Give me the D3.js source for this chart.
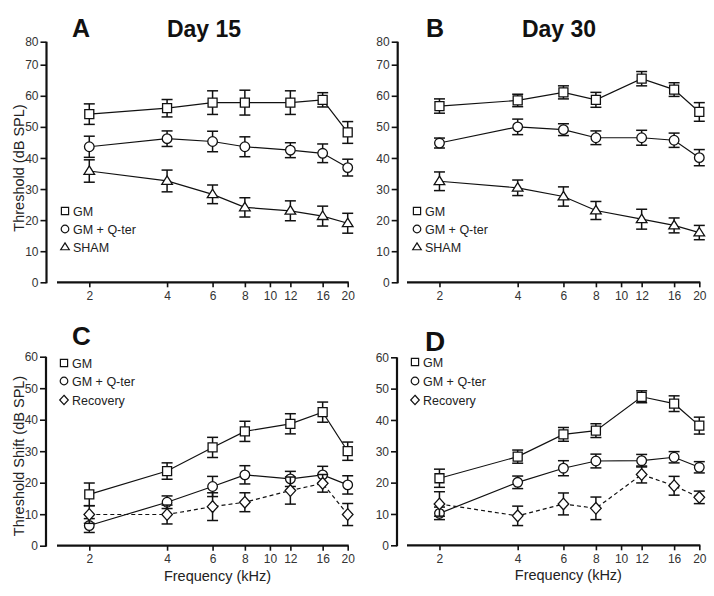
<!DOCTYPE html>
<html><head><meta charset="utf-8">
<script src="https://cdn.jsdelivr.net/npm/d3@7"></script>
<style>html,body{margin:0;padding:0;background:#fff}svg{display:block}</style>
</head><body>
<script>
// ---- data ----
const freqs = [2, 4, 6, 8, 12, 16, 20];
const xTickValues = [2, 4, 6, 8, 10, 12, 16, 20];
const yTicksThreshold = [0, 10, 20, 30, 40, 50, 60, 70, 80];
const yTicksShift = [0, 10, 20, 30, 40, 50, 60];

// Panel A: Day 15 thresholds
const day15GM = [54.1, 56.0, 57.8, 57.8, 57.8, 58.7, 48.2];
const day15GMErr = [3.3, 2.8, 3.8, 4.0, 3.8, 2.3, 3.5];
const day15GMQ = [43.6, 46.2, 45.3, 43.6, 42.5, 41.5, 36.9];
const day15GMQErr = [3.4, 2.5, 3.3, 3.2, 2.4, 3.0, 2.7];
const day15SHAM = [35.8, 32.6, 28.3, 24.1, 23.0, 21.3, 19.0];
const day15SHAMErr = [3.6, 3.5, 3.0, 3.1, 3.2, 3.2, 3.2];

// Panel B: Day 30 thresholds
const day30GM = [56.7, 58.5, 61.1, 58.7, 65.5, 62.0, 54.8];
const day30GMErr = [2.3, 2.0, 2.1, 2.4, 2.3, 2.2, 3.0];
const day30GMQ = [44.8, 50.0, 49.1, 46.5, 46.5, 45.7, 40.1];
const day30GMQErr = [1.6, 2.5, 1.9, 2.2, 2.4, 2.3, 2.6];
const day30SHAM = [32.5, 30.4, 27.6, 23.1, 20.3, 18.3, 16.0];
const day30SHAMErr = [3.0, 2.5, 3.1, 2.9, 3.2, 2.4, 2.3];

// Panel C: Day 15 threshold shift
const shift15GM = [16.3, 23.7, 31.2, 36.3, 38.7, 42.4, 30.0];
const shift15GMErr = [3.6, 2.6, 3.2, 3.2, 3.2, 3.2, 2.9];
const shift15GMQ = [6.4, 13.8, 18.8, 22.5, 21.2, 22.5, 19.3];
const shift15GMQErr = [2.2, 2.0, 3.2, 2.9, 2.4, 2.7, 2.9];
const shift15Rec = [9.9, 9.9, 12.4, 13.8, 17.5, 19.8, 9.9];
const shift15RecErr = [2.8, 3.0, 4.4, 3.0, 4.3, 2.8, 3.5];

// Panel D: Day 30 threshold shift
const shift30GM = [21.4, 28.3, 35.4, 36.6, 47.4, 45.2, 38.2];
const shift30GMErr = [2.9, 2.1, 2.2, 2.2, 1.9, 2.5, 2.7];
const shift30GMQ = [10.2, 20.1, 24.6, 26.9, 27.0, 28.1, 24.9];
const shift30GMQErr = [2.0, 2.0, 2.4, 2.2, 2.0, 1.8, 1.8];
const shift30Rec = [13.2, 9.4, 13.2, 11.8, 22.6, 19.0, 15.3];
const shift30RecErr = [3.9, 3.1, 3.5, 3.6, 2.7, 3.0, 2.0];

const legendTop = ["GM", "GM + Q-ter", "SHAM"];
const legendBottom = ["GM", "GM + Q-ter", "Recovery"];

// ---- drawing ----
const W = 714, H = 596;
const svg = d3.select("body").append("svg").attr("width", W).attr("height", H)
  .style("font-family", "'Liberation Sans', Arial, Helvetica, sans-serif");

const ink = "#111";

function shapePath(kind, s) {
  if (kind === "square") return `M${-s},${-s}H${s}V${s}H${-s}Z`;
  if (kind === "circle") return `M${-s},0A${s},${s} 0 1,0 ${s},0A${s},${s} 0 1,0 ${-s},0Z`;
  if (kind === "triangle") { const h = s * 1.6; return `M0,${-h*0.6}L${s},${h*0.4}L${-s},${h*0.4}Z`; }
  if (kind === "diamond") return `M0,${-s*1.1}L${s},0L0,${s*1.1}L${-s},0Z`;
}

function panel(cfg) {
  const g = svg.append("g");
  const x = d3.scaleLog().domain([1.5, 20]).range(cfg.xRange);
  const y = d3.scaleLinear().domain(cfg.yDomain).range(cfg.yRange);

  // y axis
  const yAxis = d3.axisLeft(y).tickValues(cfg.yTicks).tickSize(6).tickPadding(2).tickFormat(d3.format("d"));
  const ya = g.append("g").attr("transform", `translate(${cfg.yAxisX},0)`).call(yAxis);
  ya.select(".domain").attr("stroke", ink).attr("stroke-width", 2.2).attr("d", `M0,${y(cfg.yTicks[cfg.yTicks.length-1])}V${y(0)+1}`);
  ya.selectAll(".tick line").attr("stroke", ink).attr("stroke-width", 1.6);
  ya.selectAll(".tick text").attr("fill", "#333").style("font-size", "12px").attr("dy", "0.34em");

  // x axis
  const yBase = y(0);
  const xAxis = d3.axisBottom(x).tickValues(xTickValues).tickSize(5).tickPadding(4).tickFormat(d3.format("d"));
  const xa = g.append("g").attr("transform", `translate(0,${yBase})`).call(xAxis);
  xa.select(".domain").attr("stroke", ink).attr("stroke-width", 2.2).attr("d", `M${cfg.xRange[0]},0H${cfg.xRange[1]+1}`);
  xa.selectAll(".tick line").attr("stroke", ink).attr("stroke-width", 1.6);
  xa.selectAll(".tick text").attr("fill", "#333").style("font-size", "12px");

  // series
  cfg.series.forEach(s => {
    const pts = freqs.map((f, i) => ({ f, v: s.values[i], e: s.errs[i] }));
    const line = d3.line().x(d => x(d.f)).y(d => y(d.v));
    g.append("path").datum(pts).attr("d", line).attr("fill", "none")
      .attr("stroke", ink).attr("stroke-width", 1.2)
      .attr("stroke-dasharray", s.dashed ? "4,3" : null);
    const eb = g.append("g").selectAll("g").data(pts).join("g");
    eb.append("line").attr("x1", d => x(d.f)).attr("x2", d => x(d.f))
      .attr("y1", d => y(d.v + d.e)).attr("y2", d => y(d.v - d.e))
      .attr("stroke", ink).attr("stroke-width", 1.5);
    [1, -1].forEach(sg => {
      eb.append("line").attr("x1", d => x(d.f) - 5.5).attr("x2", d => x(d.f) + 5.5)
        .attr("y1", d => y(d.v + sg * d.e)).attr("y2", d => y(d.v + sg * d.e))
        .attr("stroke", ink).attr("stroke-width", 1.5);
    });
    g.append("g").selectAll("path").data(pts).join("path")
      .attr("transform", d => `translate(${x(d.f)},${y(d.v)})`)
      .attr("d", shapePath(s.shape, s.shape === "circle" ? 4.8 : (s.shape === "square" ? 4.5 : 5.3)))
      .attr("fill", "#fff").attr("stroke", ink).attr("stroke-width", 1.3);
  });

  // legend
  cfg.legend.forEach((lab, i) => {
    const ly = cfg.legendY[i];
    const sh = cfg.series[i].shape;
    g.append("path").attr("transform", `translate(${cfg.legendX},${ly})`)
      .attr("d", shapePath(sh, sh === "circle" ? 3.8 : (sh === "square" ? 3.6 : 4.3)))
      .attr("fill", "#fff").attr("stroke", ink).attr("stroke-width", 1.2);
    g.append("text").attr("x", cfg.legendX + 8).attr("y", ly).attr("dy", "0.36em")
      .style("font-size", "12.5px").attr("fill", "#222").text(lab);
  });

  // panel letter + title
  g.append("text").attr("x", cfg.letterX).attr("y", cfg.letterY).text(cfg.letter)
    .style("font-size", cfg.letterSize + "px").style("font-weight", "bold").attr("fill", ink);
  if (cfg.title) {
    g.append("text").attr("x", cfg.titleX).attr("y", cfg.letterY).attr("text-anchor", "middle")
      .text(cfg.title).style("font-size", "23px").style("font-weight", "bold").attr("fill", ink);
  }
  if (cfg.yLabel) {
    g.append("text").attr("transform", `translate(${cfg.yLabelX},${cfg.yLabelY}) rotate(-90)`)
      .attr("text-anchor", "middle").style("font-size", "14.5px").attr("fill", "#222").text(cfg.yLabel);
  }
  if (cfg.xLabel) {
    g.append("text").attr("x", (x(2) + x(20)) / 2 - 1).attr("y", yBase + 35)
      .attr("text-anchor", "middle").style("font-size", "14.5px").attr("fill", "#222").text(cfg.xLabel);
  }
}

panel({
  xRange: [57, 347.7], yDomain: [0, 70, 80], yRange: [282.3, 64.7, 41.7], yTicks: yTicksThreshold,
  yAxisX: 46.5,
  series: [
    { values: day15GM, errs: day15GMErr, shape: "square" },
    { values: day15GMQ, errs: day15GMQErr, shape: "circle" },
    { values: day15SHAM, errs: day15SHAMErr, shape: "triangle" }
  ],
  legend: legendTop, legendX: 65, legendY: [211, 229, 247],
  letter: "A", letterX: 72, letterY: 37, letterSize: 25, title: "Day 15", titleX: 204,
  yLabel: "Threshold (dB SPL)", yLabelX: 24, yLabelY: 168
});
panel({
  xRange: [407, 699.3], yDomain: [0, 70, 80], yRange: [282.3, 64.7, 41.7], yTicks: yTicksThreshold,
  yAxisX: 397.7,
  series: [
    { values: day30GM, errs: day30GMErr, shape: "square" },
    { values: day30GMQ, errs: day30GMQErr, shape: "circle" },
    { values: day30SHAM, errs: day30SHAMErr, shape: "triangle" }
  ],
  legend: legendTop, legendX: 417, legendY: [211, 229, 247],
  letter: "B", letterX: 426, letterY: 37, letterSize: 25, title: "Day 30", titleX: 559
});
panel({
  xRange: [57, 347.7], yDomain: [0, 60], yRange: [545.7, 356.7], yTicks: yTicksShift,
  yAxisX: 46,
  series: [
    { values: shift15GM, errs: shift15GMErr, shape: "square" },
    { values: shift15GMQ, errs: shift15GMQErr, shape: "circle" },
    { values: shift15Rec, errs: shift15RecErr, shape: "diamond", dashed: true }
  ],
  legend: legendBottom, legendX: 64, legendY: [363, 381, 400],
  letter: "C", letterX: 72, letterY: 345, letterSize: 26,
  yLabel: "Threshold Shift (dB SPL)", yLabelX: 24, yLabelY: 456, xLabel: "Frequency (kHz)"
});
panel({
  xRange: [407, 699.3], yDomain: [0, 60], yRange: [545.3, 357.3], yTicks: yTicksShift,
  yAxisX: 397,
  series: [
    { values: shift30GM, errs: shift30GMErr, shape: "square" },
    { values: shift30GMQ, errs: shift30GMQErr, shape: "circle" },
    { values: shift30Rec, errs: shift30RecErr, shape: "diamond", dashed: true }
  ],
  legend: legendBottom, legendX: 415, legendY: [362, 381, 400],
  letter: "D", letterX: 425, letterY: 351, letterSize: 28, xLabel: "Frequency (kHz)"
});
</script>
</body></html>
